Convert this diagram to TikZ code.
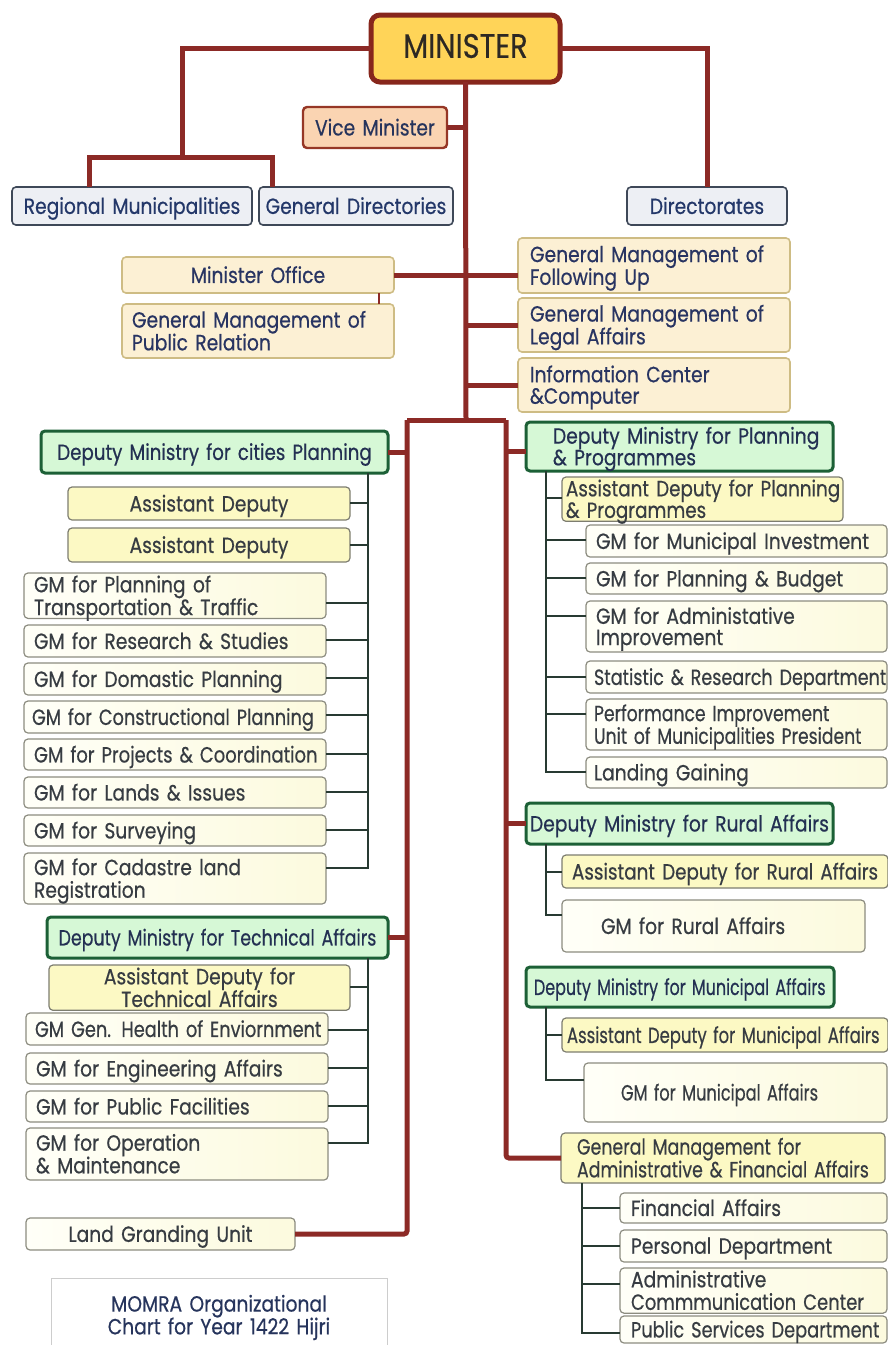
\documentclass[tikz,border=0pt]{standalone}
\usepackage{fontspec}
\usepackage{graphicx}
\setmainfont{Poppins}[FakeStretch=0.85,FakeBold=0.5]
\usetikzlibrary{calc}

\definecolor{trunk}{RGB}{140,42,38}
\definecolor{twig}{RGB}{40,58,50}
\definecolor{navy}{RGB}{38,52,92}
\definecolor{slate}{RGB}{55,60,66}
\definecolor{minfill}{RGB}{255,212,88}
\definecolor{minedge}{RGB}{135,38,28}
\definecolor{mintext}{RGB}{45,40,35}
\definecolor{vmfill}{RGB}{250,212,178}
\definecolor{vmedge}{RGB}{150,55,38}
\definecolor{grayfill}{RGB}{237,239,244}
\definecolor{grayedge}{RGB}{62,72,88}
\definecolor{graytext}{RGB}{35,55,105}
\definecolor{tanfill}{RGB}{252,240,212}
\definecolor{tanedge}{RGB}{206,188,132}
\definecolor{tantext}{RGB}{40,52,98}
\definecolor{greenfill}{RGB}{214,248,214}
\definecolor{greenedge}{RGB}{28,96,54}
\definecolor{greentext}{RGB}{35,48,82}
\definecolor{yelfill}{RGB}{252,249,196}
\definecolor{yeledge}{RGB}{125,125,112}
\definecolor{gmleft}{RGB}{255,255,248}
\definecolor{gmright}{RGB}{252,250,222}
\definecolor{gmedge}{RGB}{140,140,128}
\definecolor{noteedge}{RGB}{205,205,205}

% box placed by its corners: [text inset]{style}{name}{x1}{x2}{y1}{y2}{text}
% lines are set in a tabular so that they never wrap
\newcommand\orgbox[8][6]{%
  \pgfmathsetmacro\obw{#5-#4}%
  \pgfmathsetmacro\obh{#7-#6}%
  \pgfmathsetmacro\obt{#5-#4-2*#1}%
  \node[boxbase,#2,anchor=north west,inner xsep=#1pt,text width=\obt pt,
        minimum width=\obw pt,minimum height=\obh pt] (#3) at (#4,#6)
        {\raisebox{-2.5pt}[\height][\depth]{\begin{tabular}{@{}\orgcol@{}}#8\end{tabular}}};}
% thin connector from a spine point to a child box
\newcommand\kidE[3]{\draw[tline] (#1) |- ([yshift=-#3pt]#2.north east);}
\newcommand\kidW[3]{\draw[tline] (#1) |- ([yshift=-#3pt]#2.north west);}
\newcommand\sq[2]{\scalebox{#1}[1]{#2}}

\tikzset{
  boxbase/.style={rectangle,rounded corners=4pt,outer sep=0pt,inner ysep=0pt,
    font=\fontsize{22}{19.5}\selectfont,align=center,text=slate,
    /utils/exec={\def\orgcol{c}}},
  lft/.style={align=left,/utils/exec={\def\orgcol{l}}},
  minbox/.style={fill=minfill,draw=minedge,line width=5pt,
    rounded corners=9pt,text=mintext,font=\fontsize{34}{34}\selectfont},
  vmbox/.style={fill=vmfill,draw=vmedge,line width=2.4pt,text=navy},
  graybox/.style={fill=grayfill,draw=grayedge,line width=1.6pt,text=graytext},
  tanbox/.style={fill=tanfill,draw=tanedge,line width=1.6pt,text=tantext},
  greenbox/.style={fill=greenfill,draw=greenedge,line width=3pt,text=greentext},
  yelbox/.style={fill=yelfill,draw=yeledge,line width=1.2pt},
  gmbox/.style={left color=gmleft,right color=gmright,draw=gmedge,line width=1.2pt},
  notebox/.style={fill=white,draw=noteedge,line width=1pt,rounded corners=0pt,text=navy},
  rline/.style={draw=trunk,line width=5pt},
  tline/.style={draw=twig,line width=1.4pt},
}

\begin{document}
\begin{tikzpicture}[x=1pt,y=-1pt]
\useasboundingbox (0,0) rectangle (888,1345);
\clip (0,0) rectangle (888,1345);

% ---------- top level ----------
\orgbox{minbox}{min}{371}{560}{15}{82}{MINISTER}
\orgbox{vmbox}{vm}{303}{447}{107}{148}{Vice Minister}
\orgbox{graybox}{rm}{12}{252}{187}{225}{Regional Municipalities}
\orgbox{graybox}{gd}{259}{453}{187}{225}{General Directories}
\orgbox{graybox}{dir}{627}{787}{187}{225}{Directorates}

\orgbox{tanbox}{mo}{122}{394}{257}{293}{Minister Office}
\orgbox[10]{tanbox,lft}{gpr}{122}{394}{304}{358}{General Management of\\Public Relation}
\orgbox[12]{tanbox,lft}{gfu}{518}{790}{238}{293}{General Management of\\Following Up}
\orgbox[12]{tanbox,lft}{gla}{518}{790}{298}{352}{General Management of\\Legal Affairs}
\orgbox[12]{tanbox,lft}{icc}{518}{790}{358}{412}{Information Center\\\&Computer}

% ---------- left column ----------
\orgbox{greenbox}{dcp}{41}{388}{431}{473}{\sq{0.975}{Deputy Ministry for cities Planning}}
\orgbox{yelbox}{ad1}{68}{350}{487}{520}{Assistant Deputy}
\orgbox{yelbox}{ad2}{68}{350}{528}{562}{Assistant Deputy}
\orgbox[10]{gmbox,lft}{gpt}{24}{326}{573}{618}{GM for Planning of\\Transportation \& Traffic}
\orgbox[10]{gmbox,lft}{grs}{24}{326}{625}{657}{GM for Research \& Studies}
\orgbox[10]{gmbox,lft}{gdp}{24}{326}{663}{695}{GM for Domastic Planning}
\orgbox[8]{gmbox,lft}{gcp}{24}{326}{701}{733}{\sq{0.95}{GM for Constructional Planning}}
\orgbox[10]{gmbox,lft}{gpc}{24}{326}{739}{770}{\sq{0.96}{GM for Projects \& Coordination}}
\orgbox[10]{gmbox,lft}{gli}{24}{326}{777}{808}{GM for Lands \& Issues}
\orgbox[10]{gmbox,lft}{gsv}{24}{326}{815}{846}{GM for Surveying}
\orgbox[10]{gmbox,lft}{gcl}{24}{326}{853}{904}{GM for Cadastre land\\Registration}

\orgbox{greenbox}{dta}{47}{388}{917}{958}{\sq{0.93}{Deputy Ministry for Technical Affairs}}
\orgbox{yelbox}{adt}{49}{350}{965}{1007}{Assistant Deputy for\\Technical Affairs}
\orgbox[9]{gmbox,lft}{ghe}{26}{328}{1013}{1045}{\sq{0.95}{GM Gen. Health of Enviornment}}
\orgbox[10]{gmbox,lft}{gea}{26}{328}{1053}{1084}{GM for Engineering Affairs}
\orgbox[10]{gmbox,lft}{gpf}{26}{328}{1091}{1122}{GM for Public Facilities}
\orgbox[10]{gmbox,lft}{gom}{26}{328}{1128}{1180}{GM for Operation\\\& Maintenance}

\orgbox{gmbox}{lgu}{26}{295}{1218}{1250}{Land Granding Unit}
\orgbox{notebox}{note}{51}{387}{1278}{1352}{MOMRA Organizational\\Chart for Year 1422 Hijri}

% ---------- right column ----------
\orgbox[27]{greenbox,lft}{dpp}{526}{833}{422}{471}{Deputy Ministry for Planning\\\& Programmes}
\orgbox[4]{yelbox,lft}{adp}{562}{843}{477}{518}{\sq{0.98}{Assistant Deputy for Planning}\\\sq{0.98}{\& Programmes}}
\orgbox[10]{gmbox,lft}{gmi}{586}{887}{525}{557}{GM for Municipal Investment}
\orgbox[10]{gmbox,lft}{gpb}{586}{887}{563}{594}{GM for Planning \& Budget}
\orgbox[10]{gmbox,lft}{gai}{586}{887}{601}{652}{GM for Administative\\Improvement}
\orgbox[8]{gmbox,lft}{srd}{586}{887}{661}{693}{\sq{0.94}{Statistic \& Research Department}}
\orgbox[8]{gmbox,lft}{pim}{586}{887}{699}{750}{\sq{0.92}{Performance Improvement}\\\sq{0.92}{Unit of Municipalities President}}
\orgbox[8]{gmbox,lft}{lgn}{586}{887}{757}{788}{Landing Gaining}

\orgbox[4]{greenbox,lft}{dra}{526}{833}{803}{844}{Deputy Ministry for Rural Affairs}
\orgbox[10]{yelbox,lft}{adr}{562}{888}{855}{888}{\sq{0.98}{Assistant Deputy for Rural Affairs}}
\orgbox[39]{gmbox,lft}{grf}{562}{865}{900}{952}{GM for Rural Affairs}

\orgbox[8]{greenbox,lft}{dma}{526}{834}{967}{1007}{\sq{0.853}{Deputy Ministry for Municipal Affairs}}
\orgbox[5]{yelbox,lft}{adm}{562}{888}{1018}{1052}{\sq{0.88}{Assistant Deputy for Municipal Affairs}}
\orgbox[37]{gmbox,lft}{gmm}{584}{887}{1063}{1122}{\sq{0.868}{GM for Municipal Affairs}}

\orgbox[16]{yelbox,lft}{gaf}{561}{885}{1133}{1183}{\sq{0.93}{General Management for}\\\sq{0.93}{Administrative \& Financial Affairs}}
\orgbox[11]{gmbox,lft}{fa}{620}{887}{1193}{1223}{Financial Affairs}
\orgbox[11]{gmbox,lft}{pd}{620}{887}{1230}{1262}{Personal Department}
\orgbox[11]{gmbox,lft}{acc}{620}{887}{1268}{1309}{Administrative\\\sq{0.96}{Commmunication Center}}
\orgbox[11]{gmbox,lft}{psd}{620}{887}{1316}{1343}{\sq{0.95}{Public Services Department}}

% ---------- red trunk lines ----------
\coordinate (lj) at (182,157);
\coordinate (tb) at (466,420);
\coordinate (lc) at (407,420);
\coordinate (rc) at (506,420);

\draw[rline] (min.west) -| (lj);
\draw[rline] ([xshift=77pt]rm.north west) |- (lj) -| ([xshift=13pt]gd.north west);
\draw[rline] (min.east) -| (dir.north);
\draw[rline] (min.south) -- (tb);
\draw[rline] (vm.east) -- (vm.east -| tb);
\draw[rline] (mo.east) -- (mo.east -| gfu.west);
\draw[rline] (gla.west) -- (gla.west -| tb);
\draw[rline] (icc.west) -- (icc.west -| tb);
\draw[rline] (lc) -- (rc);
\draw[rline,rounded corners=3pt] (lc) |- (lgu.east);
\draw[rline,rounded corners=3pt] (rc) |- (gaf.west);
\draw[rline] (dcp.east) -- (dcp.east -| lc);
\draw[rline] (dta.east) -- (dta.east -| lc);
\draw[rline] ([yshift=-29pt]dpp.north west) -- ([yshift=-29pt]dpp.north west -| rc);
\draw[rline] (dra.west) -- (dra.west -| rc);
\draw[draw=trunk,line width=1.6pt] ([xshift=-15pt]mo.south east) -- ([xshift=-15pt]gpr.north east);

% ---------- thin branch lines ----------
\coordinate (s1) at (368,473);
\foreach \k/\o in {ad1/16,ad2/17,gpt/30,grs/15,gdp/15,gcp/14,gpc/15,gli/15,gsv/15,gcl/15}
  {\kidE{s1}{\k}{\o}}
\coordinate (s2) at (368,958);
\foreach \k/\o in {adt/22,ghe/17,gea/15,gpf/15,gom/15}
  {\kidE{s2}{\k}{\o}}
\coordinate (s3) at (546,471);
\foreach \k/\o in {adp/21,gmi/15,gpb/15,gai/15,srd/16,pim/15,lgn/15}
  {\kidW{s3}{\k}{\o}}
\coordinate (s4) at (546,844);
\foreach \k/\o in {adr/17,grf/15}
  {\kidW{s4}{\k}{\o}}
\coordinate (s5) at (546,1007);
\foreach \k/\o in {adm/17,gmm/17}
  {\kidW{s5}{\k}{\o}}
\coordinate (s6) at (582,1183);
\foreach \k/\o in {fa/15,pd/16,acc/16,psd/17}
  {\kidW{s6}{\k}{\o}}
\end{tikzpicture}
\end{document}
